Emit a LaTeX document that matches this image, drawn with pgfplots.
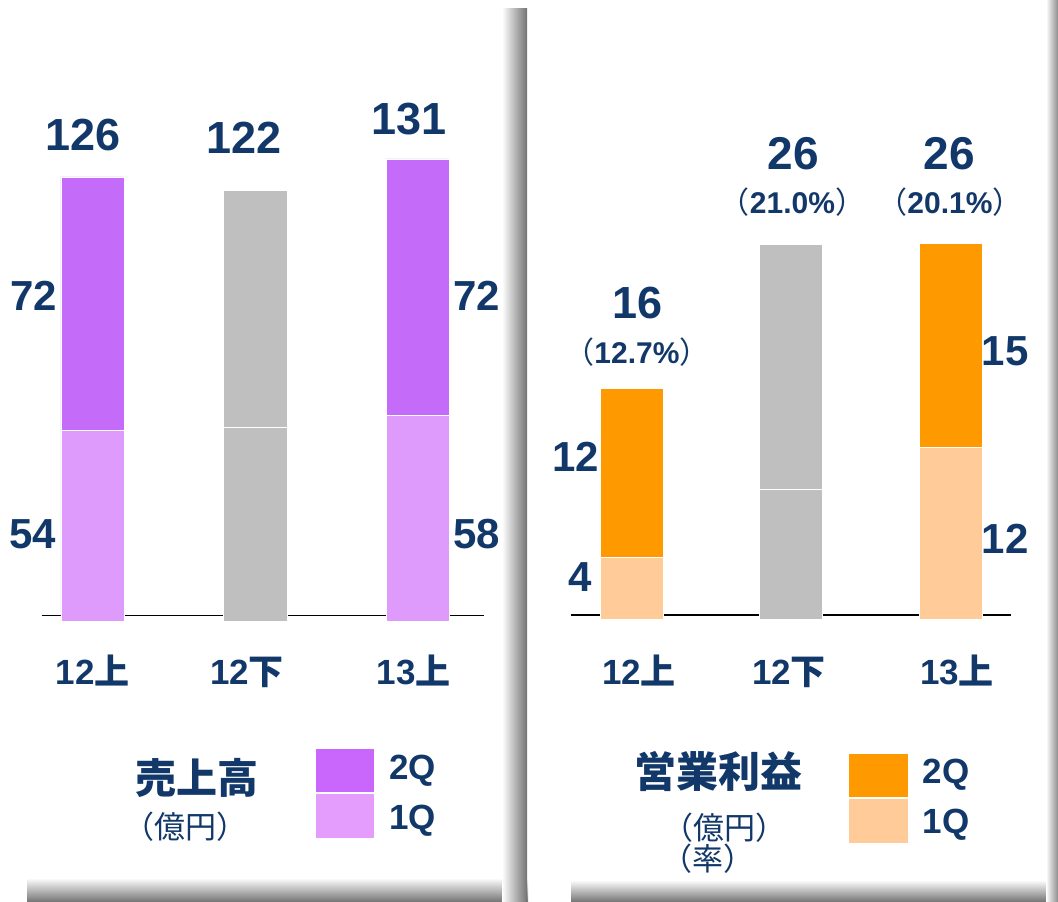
\documentclass[border=0pt]{standalone}
\usepackage{fontspec}
\setmainfont{Liberation Sans}
\newfontfamily\jp{Noto Sans CJK JP}
\usepackage{pgfplots}
\pgfplotsset{compat=1.18}
\definecolor{navy}{HTML}{12386A}
\definecolor{pA}{HTML}{C46BF9}
\definecolor{pB}{HTML}{DE9BFB}
\definecolor{pAl}{HTML}{C966FC}
\definecolor{pBl}{HTML}{E49DFD}
\definecolor{gr}{HTML}{BFBFBF}
\definecolor{oA}{HTML}{FF9900}
\definecolor{oB}{HTML}{FFCC99}
\newcommand\fs[1]{\fontsize{#1}{#1}\selectfont}
\begin{document}
\begin{tikzpicture}[x=1pt,y=1pt]
\path[use as bounding box, fill=white] (0pt,0pt) rectangle (1058pt,902pt);
% panel shadows
\shade[top color=white, bottom color=black!55] (27pt,0pt) rectangle (528pt,24pt);
\shade[left color=white, right color=black!55] (502pt,0pt) rectangle (527pt,893pt);
\shade[top color=white, bottom color=black!55] (571pt,0pt) rectangle (1058pt,22pt);
\shade[left color=white, right color=black!45] (1046pt,0pt) rectangle (1058pt,902pt);

% ---------------- left: sales ----------------
\begin{axis}[at={(41.5pt,281pt)}, anchor=south west, scale only axis,
  width=442.2pt, height=529.05pt, xmin=-0.315, xmax=2.405, ymin=0, ymax=150,
  hide axis, clip=false, ybar stacked, bar width=63.6pt,
  every axis plot/.append style={draw=white, line width=0.8pt}]
\addplot[fill=pB] coordinates {(0,54.0) (1,0) (2,58.3)};
\addplot[fill=gr] coordinates {(0,0) (1,54.9) (2,0)};
\addplot[fill=pA] coordinates {(0,71.9) (1,0) (2,72.7)};
\addplot[fill=gr] coordinates {(0,0) (1,67.3) (2,0)};
\draw[black, line width=1.7pt] (axis cs:-0.315,1.56) -- (axis cs:2.405,1.56);
\end{axis}

% ---------------- right: operating profit ----------------
\begin{axis}[at={(570.8pt,283pt)}, anchor=south west, scale only axis,
  width=439.9pt, height=504pt, xmin=-0.381, xmax=2.377, ymin=0, ymax=35,
  hide axis, clip=false, ybar stacked, bar width=63pt,
  every axis plot/.append style={draw=white, line width=0.8pt}]
\addplot[fill=oB] coordinates {(0,4.3) (1,0) (2,11.9)};
\addplot[fill=gr] coordinates {(0,0) (1,9.0) (2,0)};
\addplot[fill=oA] coordinates {(0,11.7) (1,0) (2,14.2)};
\addplot[fill=gr] coordinates {(0,0) (1,17.0) (2,0)};
\draw[black, line width=1.7pt] (axis cs:-0.381,0.26) -- (axis cs:2.377,0.26);
\end{axis}

\begin{scope}[every node/.style={inner sep=0pt, text=navy, font=\bfseries}]
% left labels
\node[anchor=base, font=\bfseries\fs{45}] at (83pt,751pt) {126};
\node[anchor=base, font=\bfseries\fs{45}] at (244pt,748pt) {122};
\node[anchor=base, font=\bfseries\fs{45}] at (408.7pt,767pt) {131};
\node[anchor=base, font=\bfseries\fs{42}] at (33.7pt,591pt) {72};
\node[anchor=base, font=\bfseries\fs{42}] at (33pt,353pt) {54};
\node[anchor=base, font=\bfseries\fs{42}] at (477pt,591pt) {72};
\node[anchor=base, font=\bfseries\fs{42}] at (477pt,353pt) {58};
\node[anchor=base, font=\bfseries\fs{35}] at (92.7pt,217pt) {12{\jp 上}};
\node[anchor=base, font=\bfseries\fs{35}] at (247pt,217pt) {12{\jp 下}};
\node[anchor=base, font=\bfseries\fs{35}] at (413.8pt,217pt) {13{\jp 上}};
% left legend
\node[font=\jp\bfseries\fs{41}] at (196.5pt,124.5pt) {売上高};
\node[font=\jp\mdseries\fs{31}] at (185.5pt,75pt) {（億円）};
\fill[pAl] (316pt,109.7pt) rectangle (374pt,152.7pt);
\fill[pBl] (316pt,64.3pt) rectangle (374pt,107.7pt);
\node[anchor=base, font=\bfseries\fs{35}] at (412.5pt,122.7pt) {2Q};
\node[anchor=base, font=\bfseries\fs{35}] at (412.5pt,72.7pt) {1Q};

% right labels
\node[anchor=base, font=\bfseries\fs{45}] at (638pt,583pt) {16};
\node[anchor=base, font=\bfseries\fs{30}] at (637pt,538pt) {{\jp\mdseries （}12.7\%{\jp\mdseries ）}};
\node[anchor=base, font=\bfseries\fs{46}] at (793pt,732pt) {26};
\node[anchor=base, font=\bfseries\fs{30}] at (792.5pt,688pt) {{\jp\mdseries （}21.0\%{\jp\mdseries ）}};
\node[anchor=base, font=\bfseries\fs{46}] at (949.5pt,732pt) {26};
\node[anchor=base, font=\bfseries\fs{30}] at (950pt,688pt) {{\jp\mdseries （}20.1\%{\jp\mdseries ）}};
\node[anchor=base, font=\bfseries\fs{42}] at (575.7pt,430pt) {12};
\node[anchor=base, font=\bfseries\fs{42}] at (580.5pt,310.5pt) {4};
\node[anchor=base, font=\bfseries\fs{42}] at (1005pt,536.6pt) {15};
\node[anchor=base, font=\bfseries\fs{42}] at (1005pt,348.5pt) {12};
\node[anchor=base, font=\bfseries\fs{35}] at (639pt,217pt) {12{\jp 上}};
\node[anchor=base, font=\bfseries\fs{35}] at (789pt,217pt) {12{\jp 下}};
\node[anchor=base, font=\bfseries\fs{35}] at (957pt,217pt) {13{\jp 上}};
% right legend
\node[font=\jp\bfseries\fs{42}] at (718pt,130pt) {営業利益};
\node[font=\jp\mdseries\fs{31}] at (724pt,74.5pt) {（億円）};
\node[font=\jp\mdseries\fs{31}] at (708pt,43pt) {（率）};
\fill[oA] (849.3pt,105.3pt) rectangle (907.7pt,148pt);
\fill[oB] (849.3pt,59.3pt) rectangle (907.7pt,102.7pt);
\node[anchor=base, font=\bfseries\fs{35}] at (946pt,118.7pt) {2Q};
\node[anchor=base, font=\bfseries\fs{35}] at (946pt,68.7pt) {1Q};
\end{scope}
\end{tikzpicture}
\end{document}
